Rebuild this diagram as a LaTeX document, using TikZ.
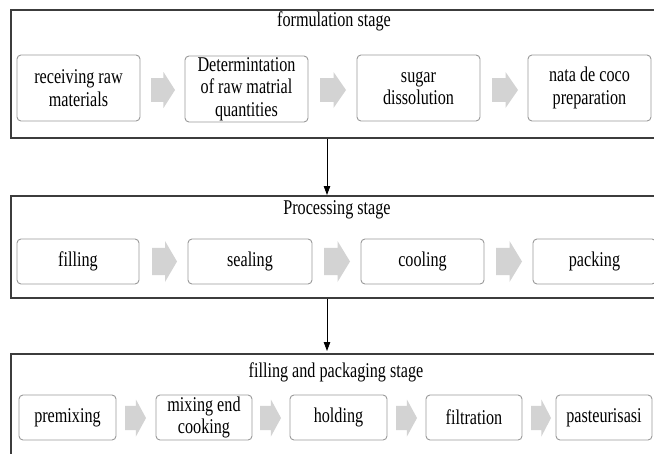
\documentclass[tikz,border=0pt]{standalone}
\usepackage{fontspec}
\setmainfont{Liberation Serif}[FakeStretch=0.77]
\usetikzlibrary{arrows.meta}
\definecolor{boxgray}{HTML}{9A9A9A}
\definecolor{arrowgray}{HTML}{D3D3D3}
\definecolor{outergray}{HTML}{3C3C3C}
\newcommand\garrow[4]{%
  \fill[arrowgray] ({#1},{#3-0.33*#4}) -- ({#1+0.52*(#2-#1)},{#3-0.33*#4}) -- ({#1+0.52*(#2-#1)},{#3-0.5*#4}) -- ({#2},{#3}) -- ({#1+0.52*(#2-#1)},{#3+0.5*#4}) -- ({#1+0.52*(#2-#1)},{#3+0.33*#4}) -- ({#1},{#3+0.33*#4}) -- cycle;}
\begin{document}
\begin{tikzpicture}[x=1pt,y=-1pt,
  stepbox/.style={draw=boxgray, line width=0.9pt, rounded corners=4pt, fill=white,
    inner sep=0pt, align=center, font=\fontsize{21}{22.5}\selectfont},
  stagebox/.style={draw=outergray, line width=1.6pt, rectangle, inner sep=0pt, anchor=north west},
  stagetitle/.style={font=\fontsize{21}{22}\selectfont, inner sep=0pt},
  conn/.style={draw=black, line width=0.8pt, -{Triangle[length=9pt,width=6.5pt]}}]
\useasboundingbox (0,0) rectangle (654,453);
\clip (0,0) rectangle (654,453);
\fill[white] (0,0) rectangle (654,453);
% stage frames
\node[stagebox, minimum width=700pt, minimum height=128pt] (S1) at (10,9) {};
\node[stagebox, minimum width=700pt, minimum height=102pt] (S2) at (10,195) {};
\node[stagebox, minimum width=700pt, minimum height=150pt] (S3) at (10,353) {};
\node[stagetitle] (T1) at (334,21) {formulation stage};
\node[stagetitle] (T2) at (337,210) {Processing stage};
\node[stagetitle] (T3) at (336,372) {filling and packaging stage};
% row 1
\node[stepbox, minimum width=123pt, minimum height=66pt] (a1) at (78.5,88) {receiving raw\\materials};
\node[stepbox, minimum width=123pt, minimum height=66pt] (a2) at (246.5,89) {Determintation\\of raw matrial\\quantities};
\node[stepbox, minimum width=123pt, minimum height=66pt] (a3) at (418.5,88) {sugar\\dissolution};
\node[stepbox, minimum width=123pt, minimum height=66pt] (a4) at (589.5,88) {nata de coco\\preparation};
\garrow{151}{175}{90}{36}
\garrow{320}{346}{90}{36}
\garrow{492}{518}{90}{36}
% row 2
\node[stepbox, minimum width=122pt, minimum height=45pt] (b1) at (78,261.5) {filling};
\node[stepbox, minimum width=124pt, minimum height=45pt] (b2) at (250,261.5) {sealing};
\node[stepbox, minimum width=123pt, minimum height=45pt] (b3) at (422.5,261.5) {cooling};
\node[stepbox, minimum width=123pt, minimum height=45pt] (b4) at (594.5,261.5) {packing};
\garrow{152}{177}{261.5}{41}
\garrow{324}{350}{261.5}{41}
\garrow{496}{522}{261.5}{41}
% row 3
\node[stepbox, minimum width=97pt, minimum height=45pt] (c1) at (67.5,417.5) {premixing};
\node[stepbox, minimum width=96pt, minimum height=45pt] (c2) at (204,417.5) {mixing end\\cooking};
\node[stepbox, minimum width=97pt, minimum height=45pt] (c3) at (338.5,417.5) {holding};
\node[stepbox, minimum width=96pt, minimum height=45pt] (c4) at (474,417.5) {filtration};
\node[stepbox, minimum width=96pt, minimum height=45pt] (c5) at (604,417.5) {pasteurisasi};
\garrow{125}{146}{418}{37}
\garrow{260}{281}{418}{37}
\garrow{396}{417}{418}{37}
\garrow{531}{551}{418}{37}
% connectors between stages
\coordinate (mid) at (327,0);
\draw[conn] (mid |- S1.south) -- (mid |- S2.north);
\draw[conn] (mid |- S2.south) -- ([yshift=2pt]mid |- S3.north);
\end{tikzpicture}
\end{document}
